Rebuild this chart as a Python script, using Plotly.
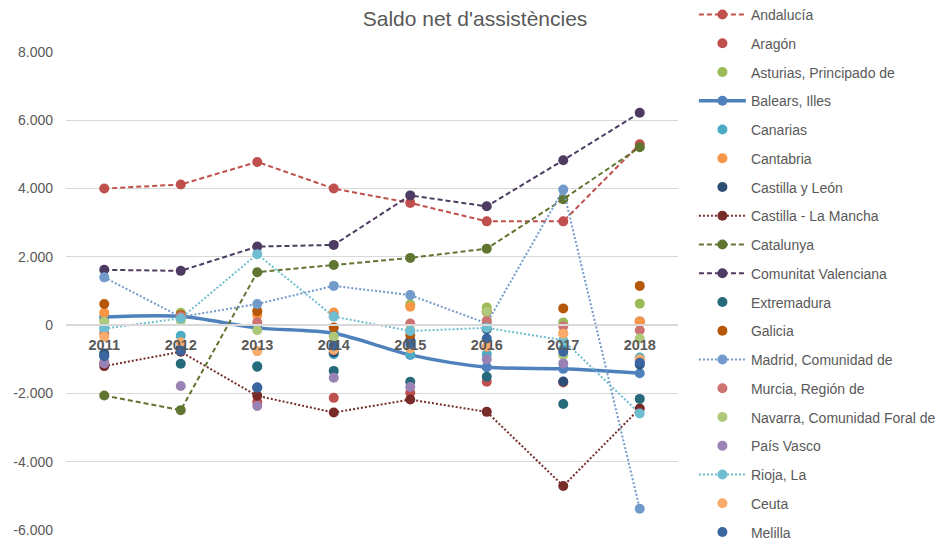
import plotly.graph_objects as go

years = ["2011", "2012", "2013", "2014", "2015", "2016", "2017", "2018"]

andalucia = [4000, 4120, 4780, 4000, 3580, 3040, 3040, 5300]
aragon = [-1100, -750, -2250, -2130, -1980, -1660, -1680, 110]
asturias = [150, 360, -100, -300, 610, 520, 80, 630]
balears = [240, 260, -80, -240, -870, -1230, -1280, -1410]
canarias = [-100, -310, -1200, -850, -860, -850, -700, -950]
cantabria = [360, 250, 290, 370, 540, 400, -240, 100]
castilla_leon = [-830, -680, -1830, -800, -440, -120, -1650, -1150]
castilla_mancha = [-1200, -780, -2070, -2560, -2180, -2540, -4710, -2440]
catalunya = [-2060, -2490, 1550, 1760, 1970, 2240, 3690, 5210]
valenciana = [1620, 1590, 2300, 2350, 3800, 3480, 4830, 6220]
extremadura = [-900, -1130, -1220, -1340, -1660, -1510, -2310, -2160]
galicia = [620, 300, 410, -70, -290, 390, 490, 1150]
madrid = [1400, 240, 620, 1150, 880, 50, 3970, -5380]
murcia = [-240, 260, 80, 260, 50, 130, -30, -150]
navarra = [100, 130, -150, -340, -150, 400, -880, -390]
pais_vasco = [-1120, -1780, -2370, -1540, -1810, -1000, -1120, -1050]
rioja = [-100, 200, 2080, 250, -170, -80, -440, -2590]
ceuta = [-340, -500, -760, -730, -680, -630, -250, -1000]
melilla = [-910, -750, -1830, -600, -550, -390, -780, -1100]

y_ticks = [-6000, -4000, -2000, 0, 2000, 4000, 6000, 8000]
y_tick_labels = ["-6.000", "-4.000", "-2.000", "0", "2.000", "4.000", "6.000", "8.000"]

DASH = "5px,3px"
DOT = "2px,2px"

# name, values, color, line style (None = markers only), line width
series = [
    ("Andalucía", andalucia, "#C0504D", DASH, 2),
    ("Aragón", aragon, "#C0504D", None, 0),
    ("Asturias, Principado de", asturias, "#9BBB59", None, 0),
    ("Balears, Illes", balears, "#4F81BD", "solid", 3.5),
    ("Canarias", canarias, "#4BACC6", None, 0),
    ("Cantabria", cantabria, "#F79646", None, 0),
    ("Castilla y León", castilla_leon, "#2C4D75", None, 0),
    ("Castilla - La Mancha", castilla_mancha, "#772C2A", DOT, 2),
    ("Catalunya", catalunya, "#5F7530", DASH, 2),
    ("Comunitat Valenciana", valenciana, "#4D3B62", DASH, 2),
    ("Extremadura", extremadura, "#276A7C", None, 0),
    ("Galicia", galicia, "#B65708", None, 0),
    ("Madrid, Comunidad de", madrid, "#729ACA", DOT, 2),
    ("Murcia, Región de", murcia, "#CD7371", None, 0),
    ("Navarra, Comunidad Foral de", navarra, "#AFC97A", None, 0),
    ("País Vasco", pais_vasco, "#9983B5", None, 0),
    ("Rioja, La", rioja, "#6FBDD1", DOT, 2),
    ("Ceuta", ceuta, "#F9AB6B", None, 0),
    ("Melilla", melilla, "#3A67A0", None, 0),
]

fig = go.Figure()
for i, (name, vals, color, dash, width) in enumerate(series):
    if dash is None:
        fig.add_trace(go.Scatter(
            x=years, y=vals, name=name, mode="markers", legendgroup=str(i),
            marker=dict(color=color, size=10),
        ))
    else:
        line = dict(color=color, width=width, dash=dash)
        if dash == "solid":
            line.update(shape="spline", smoothing=0.8)
        fig.add_trace(go.Scatter(
            x=years, y=vals, name=name, mode="lines+markers", legendgroup=str(i),
            line=line, marker=dict(color=color, size=10),
        ))

fig.update_layout(
    width=937, height=542,
    margin=dict(l=66, r=259, t=52, b=12, autoexpand=False),
    paper_bgcolor="white", plot_bgcolor="white",
    font=dict(family="Liberation Sans", color="#595959", size=14),
    title=dict(text="Saldo net d'assistències", x=0.507, xref="container", xanchor="center",
               y=0.966, yref="container", yanchor="middle",
               font=dict(size=21, color="#595959")),
    showlegend=True,
    legend=dict(x=1.026, xanchor="left", y=1.111, yanchor="top",
                font=dict(size=14, color="#595959"), tracegroupgap=7.55,
                itemwidth=47, maxheight=560),
    xaxis=dict(
        type="category", anchor="free", position=6000 / 14000,
        showgrid=False, showline=True, linecolor="#D9D9D9", linewidth=1.5,
        ticks="", tickfont=dict(size=14.5, color="#595959", family="Liberation Sans", weight="bold"),
        ticklabelstandoff=7, range=[-0.5, 7.5], zeroline=False,
    ),
    yaxis=dict(
        range=[-6000, 8000], tickvals=y_ticks, ticktext=y_tick_labels,
        showgrid=True, gridcolor="#D9D9D9", gridwidth=1, zeroline=False,
        showline=False, ticks="", tickfont=dict(size=14, color="#595959"),
        ticklabelstandoff=12,
    ),
)

fig.write_html("out.html", config={"displayModeBar": False},
               post_script="document.body.style.margin='0px';")
